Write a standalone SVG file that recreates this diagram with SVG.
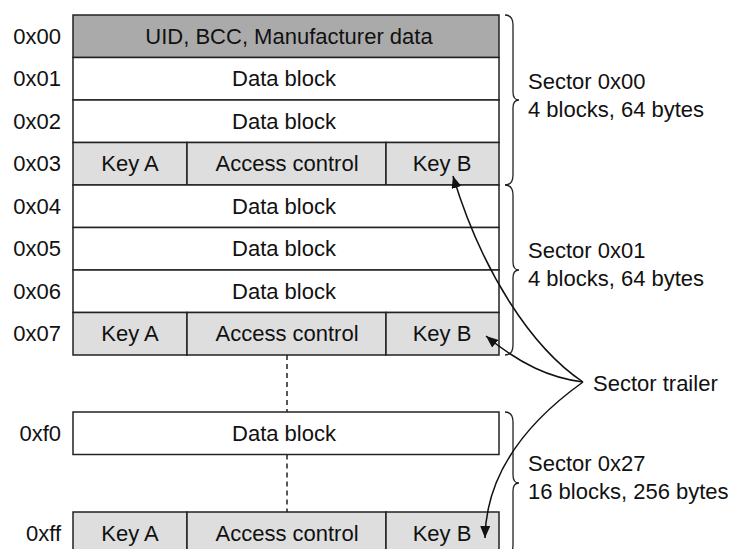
<svg xmlns="http://www.w3.org/2000/svg" width="731" height="549" viewBox="0 0 731 549">
<style>
text{font-family:"Liberation Sans",Arial,sans-serif;font-size:22px;fill:#111}
.c{text-anchor:middle}
.r{text-anchor:end}
.blk{stroke:#222;stroke-width:1.5;fill:#fff}
.hdr{fill:#aaaaaa}
.key{fill:#dedede}
.brace{fill:none;stroke:#222;stroke-width:1.3}
.dash{stroke:#222;stroke-width:1.5;stroke-dasharray:5,4;fill:none}
.arr{fill:none;stroke:#111;stroke-width:1.5;marker-end:url(#ah)}
</style>
<defs>
<marker id="ah" viewBox="0 0 12 10" refX="12" refY="5" markerWidth="12" markerHeight="10" markerUnits="userSpaceOnUse" orient="auto">
<path d="M0,0 L12,5 L0,10 z" fill="#111"/>
</marker>
</defs>
<rect width="731" height="549" fill="#fff"/>
<g id="row00"><rect class="blk hdr" x="73" y="15" width="426" height="42.5"/><text class="c" x="289" y="44">UID, BCC, Manufacturer data</text><text class="r" x="61" y="44">0x00</text></g>
<g id="row01"><rect class="blk" x="73" y="57.5" width="426" height="42.5"/><text class="c" x="284" y="86">Data block</text><text class="r" x="61" y="86">0x01</text></g>
<g id="row02"><rect class="blk" x="73" y="100" width="426" height="42.5"/><text class="c" x="284" y="129">Data block</text><text class="r" x="61" y="129">0x02</text></g>
<g id="row03"><rect class="blk key" x="73" y="142.5" width="114" height="42.5"/><rect class="blk key" x="187" y="142.5" width="199" height="42.5"/><rect class="blk key" x="386" y="142.5" width="113" height="42.5"/><text class="c" x="130" y="171">Key A</text><text class="c" x="287" y="171">Access control</text><text class="c" x="442" y="171">Key B</text><text class="r" x="61" y="171">0x03</text></g>
<g id="row04"><rect class="blk" x="73" y="185" width="426" height="42.5"/><text class="c" x="284" y="214">Data block</text><text class="r" x="61" y="214">0x04</text></g>
<g id="row05"><rect class="blk" x="73" y="227.5" width="426" height="42.5"/><text class="c" x="284" y="256">Data block</text><text class="r" x="61" y="256">0x05</text></g>
<g id="row06"><rect class="blk" x="73" y="270" width="426" height="42.5"/><text class="c" x="284" y="299">Data block</text><text class="r" x="61" y="299">0x06</text></g>
<g id="row07"><rect class="blk key" x="73" y="312.5" width="114" height="42.5"/><rect class="blk key" x="187" y="312.5" width="199" height="42.5"/><rect class="blk key" x="386" y="312.5" width="113" height="42.5"/><text class="c" x="130" y="341">Key A</text><text class="c" x="287" y="341">Access control</text><text class="c" x="442" y="341">Key B</text><text class="r" x="61" y="341">0x07</text></g>
<g id="rowf0"><rect class="blk" x="73" y="412" width="426" height="42.5"/><text class="c" x="284" y="441">Data block</text><text class="r" x="61" y="441">0xf0</text></g>
<g id="rowff"><rect class="blk key" x="73" y="512" width="114" height="42.5"/><rect class="blk key" x="187" y="512" width="199" height="42.5"/><rect class="blk key" x="386" y="512" width="113" height="42.5"/><text class="c" x="130" y="541">Key A</text><text class="c" x="287" y="541">Access control</text><text class="c" x="442" y="541">Key B</text><text class="r" x="61" y="541">0xff</text></g>
<g id="sector00"><path class="brace" d="M505,15 Q513,15 513,25 L513,92 Q513,100 519,100 Q513,100 513,108 L513,175 Q513,185 505,185"/><text x="528" y="89">Sector 0x00</text><text x="528" y="117">4 blocks, 64 bytes</text></g>
<g id="sector01"><path class="brace" d="M505,185 Q513,185 513,195 L513,262 Q513,270 519,270 Q513,270 513,278 L513,345 Q513,355 505,355"/><text x="528" y="258">Sector 0x01</text><text x="528" y="286">4 blocks, 64 bytes</text></g>
<g id="sector27"><path class="brace" d="M505,412 Q513,412 513,422 L513,475 Q513,483 519,483 Q513,483 513,491 L513,545 Q513,555 505,555"/><text x="528" y="471">Sector 0x27</text><text x="528" y="499">16 blocks, 256 bytes</text></g>
<g id="trailer"><text x="593" y="391">Sector trailer</text></g>
<g id="connectors">
<path class="dash" d="M287,355 L287,412"/>
<path class="dash" d="M287,454.5 L287,512"/>
<path class="arr" d="M583,382 C532,348 482,272 453,176"/>
<path class="arr" d="M583,382 C550,378 520,364 486,336"/>
<path class="arr" d="M583,382 C530,420 486,470 485,538"/>
</g>
</svg>
